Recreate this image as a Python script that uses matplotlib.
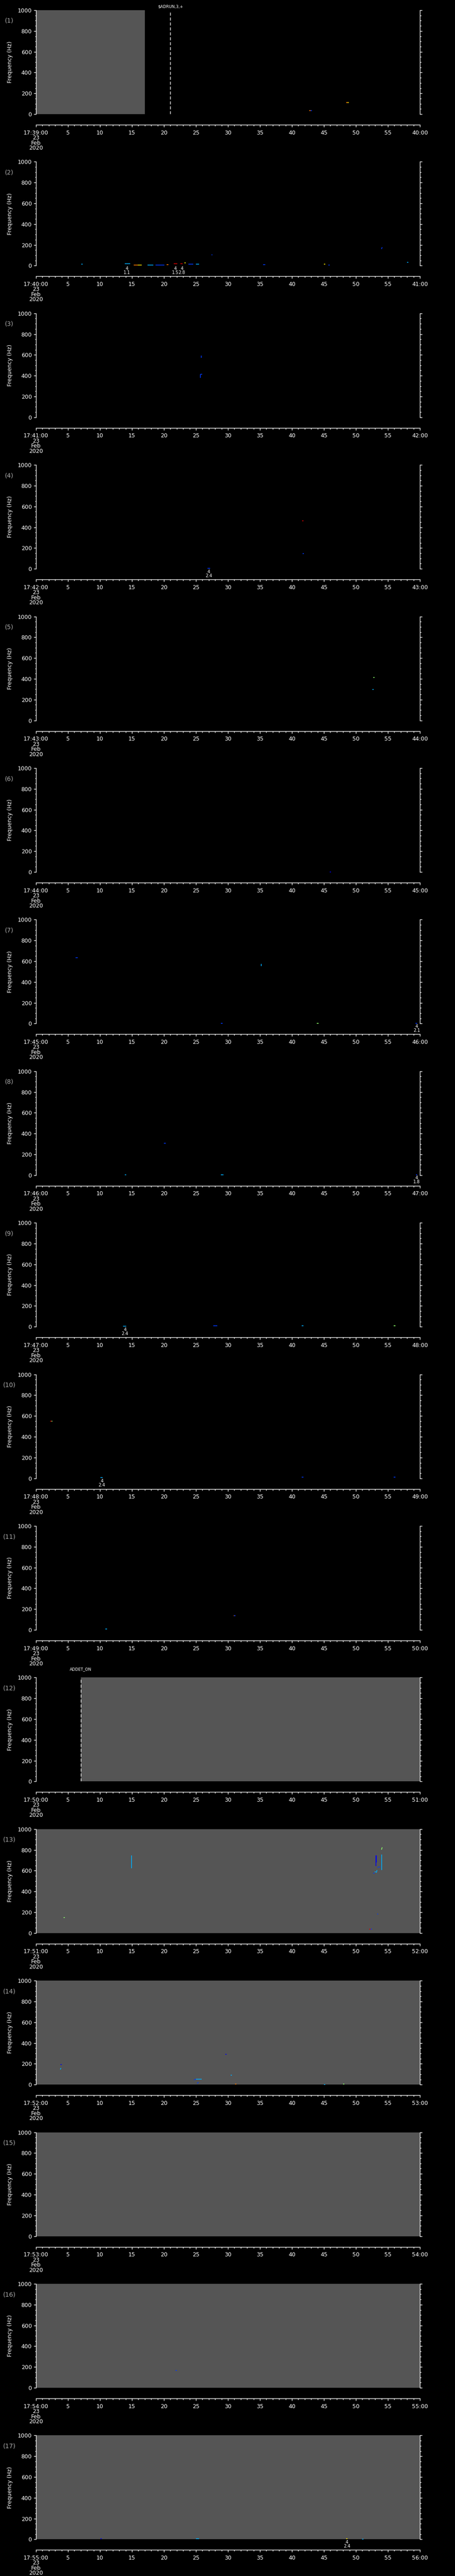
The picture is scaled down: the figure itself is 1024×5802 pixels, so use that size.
import matplotlib
matplotlib.use("Agg")
import matplotlib.pyplot as plt
from matplotlib.ticker import MultipleLocator, FixedLocator, FixedFormatter

# ---- data ----
minutes = ["39", "40", "41", "42", "43", "44", "45", "46", "47",
           "48", "49", "50", "51", "52", "53", "54", "55"]

# grey (data present) spans per panel, seconds
grey_spans = {1: (0, 17), 12: (7, 60), 13: (0, 60), 14: (0, 60),
              15: (0, 60), 16: (0, 60), 17: (0, 60)}

# dashed event markers: panel, second, label, gap above plot (px)
markers = [(1, 21.0, "$ADRUN,3,+", 3.5), (12, 7.0, "ADDET_ON", 14)]

# colour levels (jet colormap)
lev = {"b": 0.10, "B": 0.18, "c": 0.30, "g": 0.52, "y": 0.66, "o": 0.78, "r": 0.92}

# spectral blips: panel, t0, t1, f0, f1, colour level
events = [
    (1, 42.7, 42.9, 33, 33, "o"), (1, 42.9, 43.1, 33, 33, "B"),
    (1, 48.5, 48.7, 110, 110, "o"), (1, 48.7, 48.9, 110, 110, "y"),
    (2, 7.1, 7.3, 13, 13, "c"), (2, 13.9, 14.7, 17, 17, "c"),
    (2, 15.3, 15.9, 8, 8, "o"), (2, 15.9, 16.5, 8, 8, "y"),
    (2, 17.4, 18.3, 8, 8, "c"), (2, 18.7, 20.1, 8, 8, "B"),
    (2, 20.4, 20.7, 10, 10, "o"), (2, 21.5, 22.1, 17, 17, "r"),
    (2, 22.6, 22.9, 17, 17, "r"), (2, 23.2, 23.4, 26, 26, "y"),
    (2, 23.8, 24.6, 13, 13, "B"), (2, 25.0, 25.5, 13, 13, "c"),
    (2, 27.5, 27.5, 98, 110, "B"), (2, 35.5, 35.8, 10, 10, "B"),
    (2, 45.0, 45.2, 13, 13, "y"), (2, 45.7, 45.9, 8, 8, "B"),
    (2, 54.0, 54.1, 160, 178, "B"), (2, 58.0, 58.2, 30, 30, "c"),
    (3, 25.8, 25.8, 572, 595, "B"), (3, 25.7, 25.7, 378, 412, "B"),
    (3, 25.7, 26.0, 412, 412, "B"),
    (4, 26.8, 27.2, 3, 3, "B"), (4, 41.6, 41.8, 464, 464, "r"),
    (4, 41.7, 41.9, 145, 145, "B"),
    (5, 52.7, 52.9, 414, 414, "g"), (5, 52.6, 52.8, 299, 299, "c"),
    (6, 45.9, 46.1, 2, 2, "b"),
    (7, 6.2, 6.5, 633, 633, "B"), (7, 35.2, 35.2, 552, 575, "c"),
    (7, 28.9, 29.2, 3, 3, "B"), (7, 43.9, 44.2, 3, 3, "g"),
    (7, 59.3, 59.6, 3, 3, "B"),
    (8, 13.9, 14.1, 3, 3, "c"), (8, 20.0, 20.3, 306, 306, "B"),
    (8, 28.9, 29.3, 3, 3, "c"), (8, 59.4, 59.6, 3, 3, "B"),
    (9, 13.6, 14.1, 5, 5, "c"), (9, 27.7, 28.3, 8, 8, "B"),
    (9, 41.5, 41.8, 10, 10, "c"), (9, 55.9, 56.2, 10, 10, "g"),
    (10, 2.2, 2.4, 548, 548, "r"), (10, 2.4, 2.6, 548, 548, "g"),
    (10, 10.1, 10.4, 5, 5, "c"), (10, 41.5, 41.8, 10, 10, "B"),
    (10, 55.9, 56.2, 10, 10, "B"),
    (11, 10.8, 11.1, 10, 10, "c"), (11, 30.9, 31.0, 137, 137, "o"),
    (11, 31.0, 31.2, 137, 137, "B"),
    (13, 4.3, 4.5, 149, 149, "g"), (13, 14.9, 14.9, 624, 747, "c"),
    (13, 52.7, 52.9, 576, 576, "B"), (13, 52.9, 53.1, 587, 587, "c"),
    (13, 53.1, 53.1, 646, 747, "b"), (13, 53.2, 53.2, 680, 747, "b"),
    (13, 53.2, 53.3, 580, 606, "c"), (13, 53.5, 53.5, 628, 642, "B"),
    (13, 53.6, 53.8, 634, 634, "B"), (13, 54.0, 54.0, 605, 757, "c"),
    (13, 54.0, 54.1, 802, 825, "g"), (13, 53.3, 53.5, 183, 183, "B"),
    (13, 52.1, 52.3, 36, 36, "r"), (13, 52.3, 52.5, 36, 36, "B"),
    (14, 3.8, 4.0, 194, 194, "b"), (14, 3.8, 3.9, 145, 160, "c"),
    (14, 24.7, 25.0, 45, 53, "B"), (14, 25.0, 25.9, 53, 53, "c"),
    (14, 25.2, 25.4, 12, 22, "B"), (14, 29.6, 29.8, 293, 293, "b"),
    (14, 30.4, 30.6, 90, 90, "c"), (14, 31.1, 31.3, 4, 4, "o"),
    (14, 45.0, 45.2, 0, 0, "c"), (14, 48.0, 48.2, 4, 4, "g"),
    (16, 21.8, 22.0, 166, 166, "B"),
    (17, 10.1, 10.3, 4, 4, "b"), (17, 25.0, 25.5, 5, 5, "c"),
    (17, 48.5, 48.7, 4, 4, "y"), (17, 51.0, 51.2, 0, 0, "c"),
]

# small numeric annotations under the plot: panel, second, value
annots = [(2, 14.2, "1.1"), (2, 21.8, "1.5"), (2, 22.8, "2.8"),
          (4, 27.0, "2.4"), (7, 59.5, "2.1"), (8, 59.5, "1.8"),
          (9, 13.9, "2.4"), (10, 10.3, "2.4"), (17, 48.6, "2.4")]

# ---- figure ----
W, H = 1024, 5802
fig = plt.figure(figsize=(W / 100, H / 100), dpi=100, facecolor="black")
cmap = plt.get_cmap("jet")
px = 0.72  # points per pixel
grey = "#555555"

x0, pw, ph = 81, 864, 234
for i, mm in enumerate(minutes):
    n = i + 1
    top = 23 + i * 341.4
    ax = fig.add_axes([x0 / W, 1 - (top + ph) / H, pw / W, ph / H])
    ax.set_facecolor("black")
    ax.set_xlim(0, 60)
    ax.set_ylim(0, 1000)

    if n in grey_spans:
        a, b = grey_spans[n]
        ax.axvspan(a, b, color=grey, lw=0, zorder=0)

    for (p, t, lab, gap) in markers:
        if p == n:
            ax.axvline(t, ymin=0, ymax=0.99, color="white", lw=1.0,
                       dashes=(5, 3), zorder=3)
            ax.annotate(lab, xy=(t, 1000), xytext=(0, gap * px),
                        textcoords="offset points", color="white",
                        fontsize=6.5, ha="center", va="bottom",
                        annotation_clip=False, parse_math=False)

    for (p, t0, t1, f0, f1, c) in events:
        if p == n:
            ax.plot([t0, t1], [f0, f1], color=cmap(lev[c]), lw=1.6 * px,
                    solid_capstyle="butt", clip_on=False, zorder=4)

    for (p, t, v) in annots:
        if p == n:
            ax.annotate("4\n" + v, xy=(t, 0), xytext=(0, -1.2),
                        textcoords="offset points", ha="center", va="top",
                        color="white", fontsize=7, linespacing=0.85,
                        annotation_clip=False)

    ax.spines["top"].set_visible(False)
    for s in ("left", "right", "bottom"):
        ax.spines[s].set_color("white")
        ax.spines[s].set_linewidth(1.0)
    ax.spines["bottom"].set_position(("outward", 24 * px))

    ax.xaxis.set_major_locator(FixedLocator(range(0, 61, 5)))
    ax.xaxis.set_minor_locator(MultipleLocator(1))
    labs = ["17:%s:00\n23\nFeb\n2020" % mm] + [str(k) for k in range(5, 60, 5)]
    labs.append("%02d:00" % (int(mm) + 1))
    ax.xaxis.set_major_formatter(FixedFormatter(labs))
    ax.yaxis.set_major_locator(MultipleLocator(200))
    ax.yaxis.set_minor_locator(MultipleLocator(50))

    ax.tick_params(which="both", colors="white", direction="out", width=1.0,
                   right=True, labelright=False, top=False, labelsize=9)
    ax.tick_params(axis="x", which="major", length=3.3, pad=5)
    ax.tick_params(axis="x", which="minor", length=1.8)
    ax.tick_params(axis="y", which="major", length=3.3, pad=3.5)
    ax.tick_params(axis="y", which="minor", length=1.8)
    for tl in ax.get_xticklabels():
        tl.set_linespacing(0.85)

    fig.text(23 / W, 1 - (top + ph / 2) / H, "Frequency (Hz)", color="white",
             fontsize=9, rotation=90, ha="center", va="center")
    fig.text(21 / W, 1 - (top + 24) / H, "(%d)" % n, color="#aaaaaa",
             fontsize=10, ha="center", va="center")

fig.savefig("out.png", dpi=100, facecolor="black")
